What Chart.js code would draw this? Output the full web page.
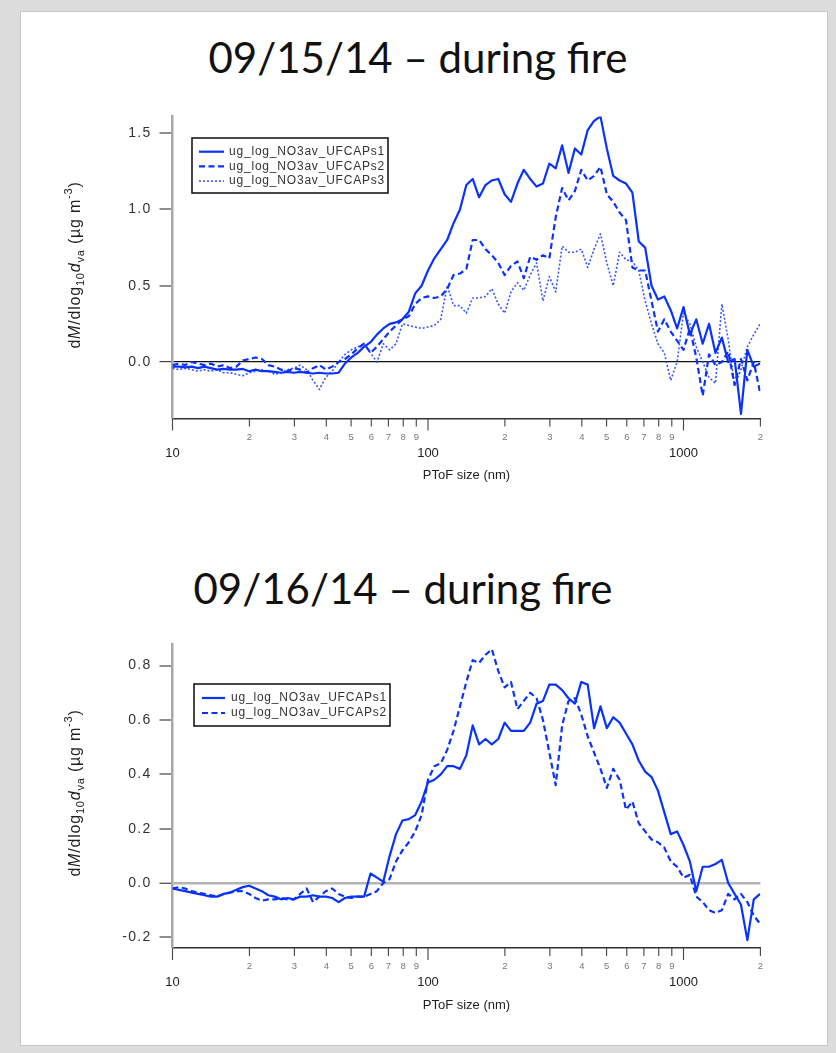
<!DOCTYPE html>
<html>
<head>
<meta charset="utf-8">
<script src="https://cdn.jsdelivr.net/npm/chart.js@4.4.1/dist/chart.umd.min.js"></script>
<style>
  html, body { margin: 0; padding: 0; background: #dcdcdc; }
  #page { position: relative; width: 836px; height: 1053px; overflow: hidden; background: #dcdcdc; }
  #panel { position: absolute; left: 20px; top: 11px; width: 808px; height: 1035px; background: #fff;
           border: 1px solid #c6c6c6; box-sizing: border-box; }
  .ttl { position: absolute; font-family: Lato, "Open Sans", sans-serif; font-size: 42px; line-height: 50px;
         color: #111; white-space: nowrap; transform: translateX(-50%); }
  canvas { position: absolute; left: 0; }
</style>
</head>
<body>
<div id="page">
  <div id="panel"></div>
  <div class="ttl" style="left:418px; top:32px;">09/15/14 – during fire</div>
  <div class="ttl" style="left:403px; top:563px;">09/16/14 – during fire</div>
  <canvas id="c15" width="836" height="420" style="top:100px; width:836px; height:420px;"></canvas>
  <canvas id="c16" width="836" height="425" style="top:628px; width:836px; height:425px;"></canvas>
</div>
<script>
// PToF size bins (nm)
const sizes = [
  10.0, 10.59, 11.22, 11.89, 12.59, 13.34, 14.13, 14.96, 15.85, 16.79,
  17.78, 18.84, 19.95, 21.13, 22.39, 23.71, 25.12, 26.61, 28.18, 29.85,
  31.62, 33.50, 35.48, 37.58, 39.81, 42.17, 44.67, 47.32, 50.12, 53.09,
  56.23, 59.57, 63.10, 66.83, 70.79, 74.99, 79.43, 84.14, 89.13, 94.41,
  100.0, 105.9, 112.2, 118.9, 125.9, 133.4, 141.3, 149.6, 158.5, 167.9,
  177.8, 188.4, 199.5, 211.3, 223.9, 237.1, 251.2, 266.1, 281.8, 298.5,
  316.2, 335.0, 354.8, 375.8, 398.1, 421.7, 446.7, 473.2, 501.2, 530.9,
  562.3, 595.7, 631.0, 668.3, 707.9, 749.9, 794.3, 841.4, 891.3, 944.1,
  1000, 1059, 1122, 1189, 1259, 1334, 1413, 1496, 1585, 1679,
  1778, 1884, 1995
];

// 09/15/14 nitrate size distributions, dM/dlog10(dva) in ug m-3
const sep15_s1 = [
  -0.03, -0.03, -0.035, -0.03, -0.04, -0.03, -0.04, -0.05, -0.045, -0.05,
  -0.05, -0.045, -0.06, -0.05, -0.06, -0.06, -0.065, -0.07, -0.065, -0.07,
  -0.065, -0.07, -0.075, -0.07, -0.075, -0.075, -0.07, -0.01, 0.03, 0.06,
  0.10, 0.13, 0.18, 0.22, 0.25, 0.26, 0.28, 0.33, 0.45, 0.50,
  0.60, 0.68, 0.74, 0.80, 0.91, 1.00, 1.16, 1.20, 1.08, 1.16,
  1.19, 1.20, 1.10, 1.05, 1.17, 1.26, 1.20, 1.15, 1.17, 1.30,
  1.27, 1.42, 1.24, 1.40, 1.36, 1.52, 1.58, 1.61, 1.40, 1.22,
  1.19, 1.17, 1.11, 0.79, 0.75, 0.50, 0.41, 0.43, 0.34, 0.22,
  0.36, 0.18, 0.28, 0.12, 0.25, 0.06, 0.16, 0.00, 0.02, -0.34,
  0.08, -0.03, -0.01
];
const sep15_s2 = [
  -0.02, -0.01, -0.02, 0.00, -0.01, -0.02, -0.01, -0.03, -0.02, -0.04,
  -0.03, 0.01, 0.02, 0.03, 0.02, -0.02, -0.03, -0.05, -0.06, -0.04,
  -0.05, -0.07, -0.04, -0.02, -0.05, -0.03, 0.00, 0.02, 0.05, 0.09,
  0.12, 0.06, 0.10, 0.15, 0.20, 0.24, 0.28, 0.30, 0.38, 0.42,
  0.43, 0.42, 0.43, 0.48, 0.57, 0.58, 0.61, 0.80, 0.80, 0.74,
  0.70, 0.65, 0.57, 0.63, 0.66, 0.55, 0.69, 0.67, 0.70, 0.68,
  0.95, 1.14, 1.06, 1.12, 1.26, 1.19, 1.22, 1.28, 1.10, 1.05,
  0.98, 0.93, 0.62, 0.60, 0.60, 0.40, 0.20, 0.28, 0.20, 0.14,
  0.08, 0.22, 0.03, -0.22, 0.05, -0.02, 0.00, 0.07, -0.15, 0.02,
  -0.12, 0.00, -0.20
];
const sep15_s3 = [
  -0.04, -0.05, -0.04, -0.05, -0.06, -0.05, -0.06, -0.05, -0.07, -0.07,
  -0.08, -0.09, -0.07, -0.06, -0.05, -0.06, -0.08, -0.07, -0.05, -0.04,
  -0.02, -0.05, -0.12, -0.18, -0.10, -0.06, 0.00, 0.05, 0.08, 0.10,
  0.12, 0.06, 0.00, 0.12, 0.08, 0.12, 0.25, 0.24, 0.23, 0.22,
  0.23, 0.24, 0.28, 0.50, 0.37, 0.37, 0.32, 0.42, 0.42, 0.43,
  0.48, 0.38, 0.32, 0.46, 0.52, 0.47, 0.57, 0.65, 0.40, 0.56,
  0.46, 0.76, 0.72, 0.72, 0.74, 0.62, 0.74, 0.84, 0.65, 0.50,
  0.72, 0.67, 0.66, 0.60, 0.40, 0.25, 0.12, 0.06, -0.12, 0.00,
  0.32, 0.25, 0.10, 0.00, -0.10, -0.14, 0.38, 0.15, -0.15, -0.05,
  0.10, 0.18, 0.25
];

// 09/16/14 nitrate size distributions
const sep16_s1 = [
  -0.02, -0.025, -0.03, -0.035, -0.04, -0.045, -0.05, -0.05, -0.04, -0.035,
  -0.025, -0.015, -0.01, -0.02, -0.03, -0.045, -0.05, -0.06, -0.055, -0.06,
  -0.05, -0.05, -0.045, -0.05, -0.05, -0.055, -0.07, -0.055, -0.05, -0.05,
  -0.05, 0.035, 0.02, 0.005, 0.10, 0.18, 0.23, 0.235, 0.25, 0.30,
  0.37, 0.38, 0.40, 0.43, 0.43, 0.42, 0.47, 0.58, 0.51, 0.53,
  0.51, 0.53, 0.59, 0.56, 0.56, 0.56, 0.59, 0.66, 0.67, 0.73,
  0.73, 0.71, 0.68, 0.66, 0.74, 0.73, 0.57, 0.65, 0.57, 0.61,
  0.59, 0.55, 0.51, 0.45, 0.41, 0.39, 0.34, 0.26, 0.18, 0.19,
  0.14, 0.08, -0.03, 0.06, 0.06, 0.07, 0.085, 0.00, -0.04, -0.08,
  -0.21, -0.06, -0.04
];
const sep16_s2 = [
  -0.02, -0.015, -0.02, -0.03, -0.035, -0.04, -0.045, -0.05, -0.04, -0.035,
  -0.03, -0.03, -0.04, -0.055, -0.065, -0.06, -0.06, -0.055, -0.06, -0.06,
  -0.04, -0.02, -0.07, -0.05, -0.03, -0.02, -0.04, -0.05, -0.055, -0.05,
  -0.05, -0.04, -0.03, 0.00, 0.015, 0.08, 0.12, 0.15, 0.19, 0.25,
  0.38, 0.43, 0.44, 0.49, 0.56, 0.65, 0.74, 0.82, 0.81, 0.84,
  0.86, 0.78, 0.72, 0.74, 0.64, 0.67, 0.70, 0.68, 0.60, 0.48,
  0.36, 0.58, 0.67, 0.68, 0.62, 0.54, 0.48, 0.42, 0.35, 0.42,
  0.38, 0.27, 0.30, 0.22, 0.19, 0.16, 0.15, 0.13, 0.08, 0.06,
  0.02, 0.03, -0.05, -0.07, -0.10, -0.11, -0.10, -0.04, -0.06, -0.04,
  -0.07, -0.12, -0.15
];

const names15 = ['ug_log_NO3av_UFCAPs1', 'ug_log_NO3av_UFCAPs2', 'ug_log_NO3av_UFCAPs3'];
const names16 = ['ug_log_NO3av_UFCAPs1', 'ug_log_NO3av_UFCAPs2'];

// log axis ticks
const xTickValues = [10, 20, 30, 40, 50, 60, 70, 80, 90,
                     100, 200, 300, 400, 500, 600, 700, 800, 900,
                     1000, 2000];
const xTickLabels = ['10', '2', '3', '4', '5', '6', '7', '8', '9',
                     '100', '2', '3', '4', '5', '6', '7', '8', '9',
                     '1000', '2'];
const xMajor = [10, 100, 1000];
const yTicks15 = [0, 0.5, 1.0, 1.5];
const yTicks16 = [-0.2, 0, 0.2, 0.4, 0.6, 0.8];

const BLUE = '#0a32ff';
const FONT = '"Liberation Sans", Arial, sans-serif';
const lineStyles = [
  { borderDash: [], borderWidth: 2.2, borderColor: BLUE },
  { borderDash: [6, 3.5], borderWidth: 2.2, borderColor: BLUE },
  { borderDash: [2, 2], borderWidth: 1.6, borderColor: 'rgba(20,60,255,0.85)' }
];

// rotated y-axis title: dM/dlog10 dva (µg m-3)
function drawYTitle(ctx, cx, cy) {
  const big = '16px ' + FONT, bigI = 'italic 16px ' + FONT, small = '11px ' + FONT;
  const runs = [
    { t: 'd', f: big, dy: 5 }, { t: 'M', f: bigI, dy: 5 }, { t: '/dlog', f: big, dy: 5 },
    { t: '10', f: small, dy: 9 }, { t: 'd', f: bigI, dy: 5 }, { t: 'va', f: small, dy: 9 },
    { t: ' (µg m', f: big, dy: 5 }, { t: '-3', f: small, dy: -3 }, { t: ')', f: big, dy: 5 }
  ];
  ctx.save();
  ctx.translate(cx, cy);
  ctx.rotate(-Math.PI / 2);
  ctx.letterSpacing = '0.8px';
  let total = 0;
  runs.forEach(r => { ctx.font = r.f; r.w = ctx.measureText(r.t).width; total += r.w; });
  let x = -total / 2;
  ctx.fillStyle = '#222';
  ctx.textBaseline = 'alphabetic';
  runs.forEach(r => { ctx.font = r.f; ctx.fillText(r.t, x, r.dy); x += r.w; });
  ctx.restore();
}

const decor = {
  id: 'decor',
  afterDatasetsDraw(chart) {
    // slightly wider spacing for the y tick labels drawn next
    chart.ctx.letterSpacing = '1.3px';
  },
  afterDraw(chart, args, opts) {
    const ctx = chart.ctx;
    ctx.letterSpacing = '0px';
    const xs = chart.scales.x, ca = chart.chartArea;
    // x tick marks, longer at decades
    ctx.save();
    ctx.strokeStyle = '#444';
    ctx.lineWidth = 1.1;
    xs.ticks.forEach(t => {
      const px = xs.getPixelForValue(t.value);
      const len = xMajor.includes(t.value) ? 12 : 8;
      ctx.beginPath();
      ctx.moveTo(px, ca.bottom);
      ctx.lineTo(px, ca.bottom + len);
      ctx.stroke();
    });
    ctx.restore();

    drawYTitle(ctx, opts.yTitleX, opts.yTitleY);

    // legend box
    const L = opts.legend;
    ctx.save();
    ctx.fillStyle = '#fff';
    ctx.fillRect(L.left, L.top, L.width, L.height);
    ctx.strokeStyle = '#1a1a1a';
    ctx.lineWidth = 1.6;
    ctx.strokeRect(L.left, L.top, L.width, L.height);
    ctx.font = '12px ' + FONT;
    ctx.letterSpacing = '0.8px';
    ctx.textBaseline = 'middle';
    chart.data.datasets.forEach((ds, i) => {
      const y = L.firstRow + i * L.rowGap;
      ctx.beginPath();
      ctx.setLineDash(ds.borderDash || []);
      ctx.lineWidth = ds.borderWidth;
      ctx.strokeStyle = ds.borderColor;
      ctx.moveTo(L.x0, y);
      ctx.lineTo(L.x1, y);
      ctx.stroke();
      ctx.setLineDash([]);
      ctx.fillStyle = '#333';
      ctx.fillText(ds.label, L.textX, y);
    });
    ctx.restore();
  }
};

function makeChart(id, seriesList, names, yMin, yMax, yTicks, zeroColor, zeroWidth, legend, padBottom) {
  const datasets = seriesList.map((vals, i) => Object.assign({
    label: names[i],
    data: sizes.map((d, k) => ({ x: d, y: vals[k] })),
    pointRadius: 0,
    tension: 0,
    fill: false,
    borderJoinStyle: 'round'
  }, lineStyles[i]));

  return new Chart(document.getElementById(id), {
    type: 'line',
    data: { datasets },
    plugins: [decor],
    options: {
      responsive: false,
      animation: false,
      events: [],
      layout: { padding: { left: 72.5, right: 75.6, top: 15, bottom: padBottom } },
      plugins: {
        legend: { display: false },
        tooltip: { enabled: false },
        decor: { yTitleX: 75, yTitleY: 165, legend }
      },
      scales: {
        x: {
          type: 'logarithmic',
          min: 10, max: 2000,
          afterFit: s => { s.height = 70; },
          afterBuildTicks: s => { s.ticks = xTickValues.map(v => ({ value: v })); },
          grid: { drawOnChartArea: false, drawTicks: false },
          border: { display: true, color: '#333', width: 1.5 },
          ticks: {
            autoSkip: false, maxRotation: 0, minRotation: 0, padding: 13,
            callback: (v, i) => xMajor.includes(v) ? ['', xTickLabels[i]] : xTickLabels[i],
            font: c => (c.tick && xMajor.includes(c.tick.value))
              ? { family: FONT, size: 13, lineHeight: 1.1 }
              : { family: FONT, size: 9.5, lineHeight: 1.2 },
            color: c => (c.tick && xMajor.includes(c.tick.value)) ? '#222' : '#777'
          },
          title: {
            display: true, text: 'PToF size (nm)', color: '#222',
            font: { family: FONT, size: 13, lineHeight: 1.2 },
            padding: { top: 0, bottom: 5 }
          }
        },
        y: {
          type: 'linear',
          min: yMin, max: yMax,
          afterFit: s => { s.width = 100; },
          afterBuildTicks: s => { s.ticks = yTicks.map(v => ({ value: v })); },
          grid: {
            drawOnChartArea: true, drawTicks: true, tickLength: 13,
            color: c => (c.tick && c.tick.value === 0) ? zeroColor : 'rgba(0,0,0,0)',
            lineWidth: c => (c.tick && c.tick.value === 0) ? zeroWidth : 0,
            tickColor: '#444', tickWidth: 1.2
          },
          border: { display: true, color: '#a8a8a8', width: 2.5 },
          ticks: {
            z: 1, padding: 8, color: '#333',
            font: { family: FONT, size: 14 },
            callback: v => v.toFixed(1)
          }
        }
      }
    }
  });
}

makeChart('c15', [sep15_s1, sep15_s2, sep15_s3], names15, -0.37, 1.61, yTicks15, '#111', 1.2,
  { left: 192, top: 38, width: 196, height: 55, firstRow: 51.7, rowGap: 14.7, x0: 199, x1: 224, textX: 229 }, 31.5);

makeChart('c16', [sep16_s1, sep16_s2], names16, -0.239, 0.878, yTicks16, '#b4b4b4', 2.5,
  { left: 194, top: 56, width: 196, height: 42, firstRow: 70, rowGap: 15, x0: 202, x1: 225, textX: 231 }, 35);
</script>
</body>
</html>
